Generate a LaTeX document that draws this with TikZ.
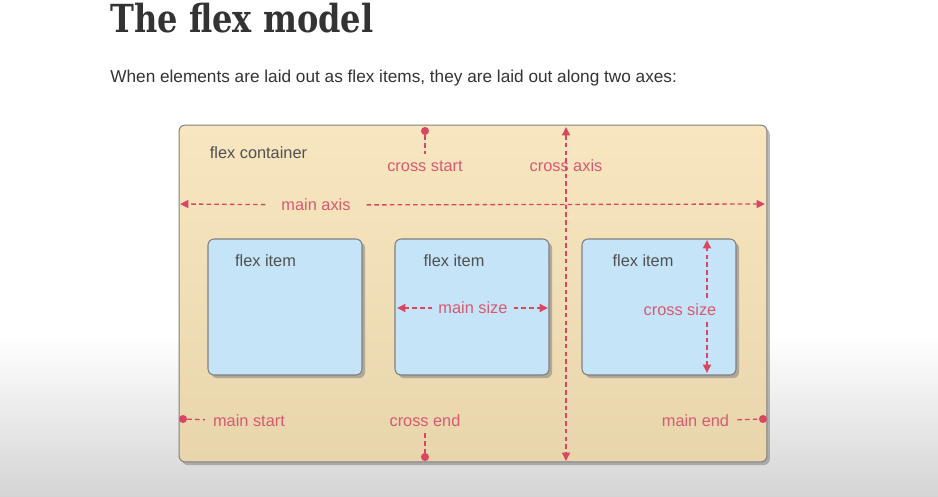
\documentclass[tikz,border=0pt]{standalone}
\usepackage{fontspec}
\setmainfont{Liberation Sans}
\newfontfamily\titlefont[FakeStretch=0.83]{DejaVu Serif}
\usepackage[HTML]{xcolor}
\usepackage{tikz}
\usetikzlibrary{positioning, arrows.meta, shadows}

\definecolor{flexred}{HTML}{D94662}
\definecolor{flextext}{HTML}{D65A70}
\definecolor{labelgray}{HTML}{505050}
\definecolor{headgray}{HTML}{333333}
\definecolor{tantop}{HTML}{F8E6C0}
\definecolor{tanlow}{HTML}{E8D5AC}
\definecolor{itemblue}{HTML}{C5E4F8}

\newcommand{\lblfont}{\fontsize{9.3}{11}\selectfont}

\begin{document}
\begin{tikzpicture}[x=0.02cm, y={(0,-0.02cm)},
  >={Triangle[length=4.8pt,width=4.6pt]},
  container/.style={draw=black!50, line width=0.6pt, rounded corners=3.5pt,
    top color=tantop, bottom color=tanlow, minimum width=11.76cm, minimum height=6.74cm,
    drop shadow={shadow xshift=1.6pt, shadow yshift=-1.8pt, opacity=0.55}},
  flexitem/.style={draw=black!50, line width=0.6pt, rounded corners=3.5pt,
    fill=itemblue, minimum width=3.08cm, minimum height=2.72cm,
    drop shadow={shadow xshift=1.8pt, shadow yshift=-1.8pt, opacity=0.55}},
  graylbl/.style={text=labelgray, font=\lblfont},
  redlbl/.style={text=flextext, font=\lblfont},
  axis/.style={draw=flexred, line width=0.75pt, dash pattern=on 2.6pt off 1.8pt},
  dot/.style={circle, fill=flexred, inner sep=0pt, minimum size=4.6pt}]

% page and lower grey band
\fill[white] (0,0) rectangle (938,497);
\shade[top color=white, bottom color=black!17] (0,335) rectangle (938,497);
\useasboundingbox (0,0) rectangle (938,497);

\node[anchor=base west, text=headgray, inner sep=0pt] (title) at (110,32)
  {\titlefont\bfseries\fontsize{22}{26}\selectfont The flex model};
\node[anchor=base west, text=headgray, inner sep=0pt] (intro) at (110,82)
  {\fontsize{9.8}{12}\selectfont When elements are laid out as flex items, they are laid out along two axes:};

% container and items
\node[container] (box) at (473,293.5) {};
\node[flexitem] (item1) at (285,307) {};
\node[flexitem] (item2) at (472,307) {};
\node[flexitem] (item3) at (659,307) {};

\node[graylbl] (boxlbl) at (258.5,153) {flex container};
\node[graylbl] (item1lbl) at (265.5,261) {flex item};
\node[graylbl] (item2lbl) at (454,261) {flex item};
\node[graylbl] (item3lbl) at (643,261) {flex item};

% main axis
\coordinate (maL) at (180,204);
\coordinate (maR) at (765,204);
\node[redlbl, inner xsep=9pt] (malbl) at (316,205) {main axis};
\draw[axis,->] (malbl) -- (maL);
\draw[axis,->] (malbl) -- (maR);

% cross axis
\coordinate (caT) at (566,127);
\coordinate (caB) at (566,461);
\draw[axis,<->] (caT) -- (caB);
\node[redlbl] (calbl) at (566,166) {cross axis};

% start and end
\node[dot] (csdot) at (425,131) {};
\node[redlbl] (cslbl) at (425,166) {cross start};
\draw[axis] (csdot) -- (cslbl);

\node[dot] (cedot) at (425,457) {};
\node[redlbl] (celbl) at (425,421) {cross end};
\draw[axis] (celbl) -- (cedot);

\node[dot] (msdot) at (183,419) {};
\node[redlbl, inner xsep=4.5pt] (mslbl) at (249,421) {main start};
\draw[axis] (msdot) -- (mslbl);

\node[dot] (medot) at (763,419) {};
\node[redlbl, inner xsep=4.5pt] (melbl) at (695.5,421) {main end};
\draw[axis] (melbl) -- (medot);

% sizes
\coordinate (mszL) at (397,308);
\coordinate (mszR) at (548,308);
\node[redlbl] (mszlbl) at (473,308) {main size};
\draw[axis,->] (mszlbl) -- (mszL);
\draw[axis,->] (mszlbl) -- (mszR);

\coordinate (cszT) at (707,240);
\coordinate (cszB) at (707,373);
\node[redlbl] (cszlbl) at (680,310) {cross size};
\draw[axis,->] (cszT |- cszlbl.north) -- (cszT);
\draw[axis,->] (cszT |- cszlbl.south) -- (cszB);
\end{tikzpicture}
\end{document}
